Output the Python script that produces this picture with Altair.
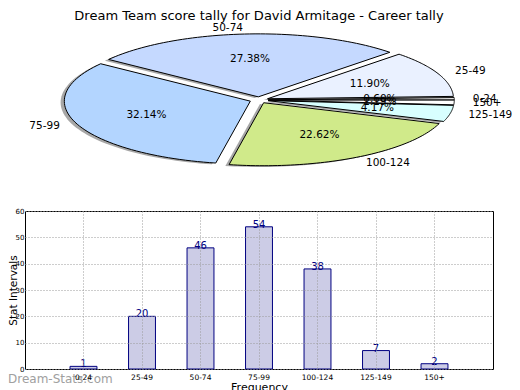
import altair as alt
import pandas as pd

# ---- data ----
categories = ["0-24", "25-49", "50-74", "75-99", "100-124", "125-149", "150+"]
counts = [1, 20, 46, 54, 38, 7, 2]
pie_colors = ["#FFFFFF", "#EAF1FF", "#C5D9FF", "#B3D5FF", "#D0EA8A", "#D8FFFF", "#FFFFFF"]
y_ticks = [0, 10, 20, 30, 40, 50, 60]
title_text = "Dream Team score tally for David Armitage - Career tally"
x_title = "Frequency"
y_title = "Stat Intervals"
watermark = ["Dream-Stats.com"]

# ---- pie geometry parameters ----
explode = 0.05
label_dist = 1.1
pct_dist = 0.6
n_seg = 60
shadow_off = 0.02

W, H = 468, 158
FONT = "DejaVu Sans"

df = pd.DataFrame({"cat": categories, "count": counts, "idx": list(range(len(categories)))})

base = (
    alt.Chart(df)
    .transform_joinaggregate(total="sum(count)")
    .transform_window(cum="sum(count)", sort=[alt.SortField("idx")], frame=[None, 0])
    .transform_calculate(a0="2*PI*(datum.cum - datum.count)/datum.total")
    .transform_calculate(a1="2*PI*datum.cum/datum.total")
    .transform_calculate(am="(datum.a0 + datum.a1)/2")
    .transform_calculate(ox=f"{explode}*cos(datum.am)")
    .transform_calculate(oy=f"{explode}*sin(datum.am)")
    .transform_calculate(pct="format(100*datum.count/datum.total, '.2f') + '%'")
)

poly = (
    base.transform_calculate(t=f"sequence(0, {n_seg + 3})")
    .transform_flatten(["t"])
    .transform_calculate(ang=f"datum.a0 + (datum.a1 - datum.a0)*(datum.t - 1)/{n_seg}")
    .transform_calculate(
        px=f"(datum.t == 0 || datum.t == {n_seg + 2}) ? datum.ox : datum.ox + cos(datum.ang)"
    )
    .transform_calculate(
        py=f"(datum.t == 0 || datum.t == {n_seg + 2}) ? datum.oy : datum.oy + sin(datum.ang)"
    )
    .transform_calculate(sx=f"datum.px - {shadow_off}")
    .transform_calculate(sy=f"datum.py - {shadow_off}")
)

xs = alt.Scale(domain=[-1.258, 1.258], nice=False, zero=False)
ys = alt.Scale(domain=[-1, 1], range=[-48, -174], nice=False, zero=False)

shadow = poly.mark_line(fill="#505050", fillOpacity=0.5, strokeOpacity=0).encode(
    x=alt.X("sx:Q", scale=xs, axis=None),
    y=alt.Y("sy:Q", scale=ys, axis=None),
    order="t:Q",
    detail="cat:N",
)

slices = poly.mark_line(stroke="black", strokeWidth=1, strokeJoin="miter").encode(
    x=alt.X("px:Q", scale=xs, axis=None),
    y=alt.Y("py:Q", scale=ys, axis=None),
    order="t:Q",
    detail="cat:N",
    fill=alt.Fill("cat:N", scale=alt.Scale(domain=categories, range=pie_colors), legend=None),
)

lab = base.transform_calculate(lx=f"datum.ox + {label_dist}*cos(datum.am)").transform_calculate(
    ly=f"datum.oy + {label_dist}*sin(datum.am)"
)
lab_left = lab.transform_filter("datum.lx > 0").mark_text(
    align="left", baseline="middle", fontSize=10.5, font=FONT, color="black"
).encode(x=alt.X("lx:Q", scale=xs, axis=None), y=alt.Y("ly:Q", scale=ys, axis=None), text="cat:N")
lab_right = lab.transform_filter("datum.lx <= 0").mark_text(
    align="right", baseline="middle", fontSize=10.5, font=FONT, color="black"
).encode(x=alt.X("lx:Q", scale=xs, axis=None), y=alt.Y("ly:Q", scale=ys, axis=None), text="cat:N")

pct = (
    base.transform_calculate(qx=f"datum.ox + {pct_dist}*cos(datum.am)")
    .transform_calculate(qy=f"datum.oy + {pct_dist}*sin(datum.am)")
    .mark_text(align="center", baseline="middle", fontSize=10.5, font=FONT, color="black")
    .encode(x=alt.X("qx:Q", scale=xs, axis=None), y=alt.Y("qy:Q", scale=ys, axis=None), text="pct:N")
)

pie = alt.layer(shadow, slices, lab_left, lab_right, pct)

# ---- bar chart ----
bx = alt.Scale(domain=categories, paddingInner=0, paddingOuter=0.5)
by = alt.Scale(domain=[0, 60], nice=False)

bar_base = alt.Chart(df).encode(
    x=alt.X(
        "cat:N",
        scale=bx,
        sort=categories,
        axis=alt.Axis(
            title=x_title,
            labelAngle=0,
            ticks=False,
            domain=False,
            grid=True,
            bandPosition=0.5,
            gridDash=[1, 2],
            gridColor="#9a9a9a",
            gridOpacity=1,
            labelFontSize=7.5,
            labelPadding=4,
            labelColor="black",
            titleFontSize=11,
            titleFontWeight="normal",
            titlePadding=1,
            titleColor="black",
            zindex=1,
        ),
    ),
    y=alt.Y(
        "count:Q",
        scale=by,
        axis=alt.Axis(
            title=y_title,
            values=y_ticks,
            ticks=False,
            domain=False,
            grid=True,
            gridDash=[1, 2],
            gridColor="#9a9a9a",
            gridOpacity=1,
            labelFontSize=7,
            labelPadding=1,
            labelColor="black",
            titleFontSize=10.5,
            titleFontWeight="normal",
            titleColor="black",
            titleX=-8.5,
            titleBaseline="alphabetic",
            zindex=1,
        ),
    ),
)

bars = bar_base.mark_bar(
    width=alt.RelativeBandSize(0.46), fill="#CCCCE6", stroke="#000080", strokeWidth=1
)
bar_text = bar_base.mark_text(
    baseline="bottom", dy=3, fontSize=10, font=FONT, color="#000080"
).encode(text="count:Q")

wm = (
    alt.Chart(pd.DataFrame({"w": watermark}))
    .mark_text(align="left", baseline="alphabetic", fontSize=12, font=FONT, color="#A0A0A0")
    .encode(text="w:N", x=alt.value(-17), y=alt.value(172))
)

barlayer = alt.layer(bars, bar_text, wm)

chart = (
    alt.layer(pie, barlayer)
    .resolve_scale(x="independent", y="independent", fill="independent")
    .properties(
        width=W,
        height=H,
        title=alt.Title(
            title_text, fontSize=13, fontWeight="normal", font=FONT, anchor="middle",
            frame="group", color="black", dy=4,
        ),
        autosize=alt.AutoSizeParams(type="none"),
        padding={"left": 17, "top": 203, "right": 19, "bottom": 22},
    )
    .configure(font=FONT)
    .configure_view(stroke="black", strokeWidth=1)
)

chart.save("out.html", embed_options={"renderer": "svg", "actions": False})
